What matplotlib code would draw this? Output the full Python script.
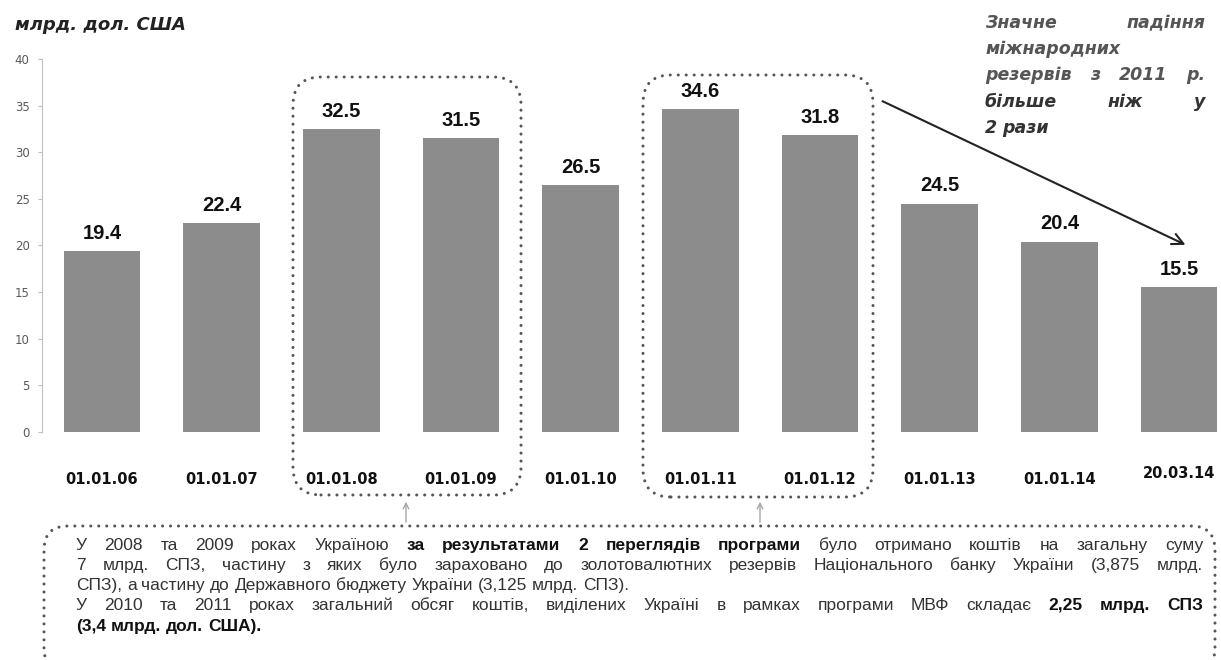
import matplotlib
matplotlib.use("Agg")
from matplotlib import pyplot as plt
from matplotlib.patches import FancyBboxPatch
import matplotlib.transforms as mtransforms

dates = ["01.01.06", "01.01.07", "01.01.08", "01.01.09", "01.01.10",
         "01.01.11", "01.01.12", "01.01.13", "01.01.14", "20.03.14"]
reserves = [19.4, 22.4, 32.5, 31.5, 26.5, 34.6, 31.8, 24.5, 20.4, 15.5]
yticks = [0, 5, 10, 15, 20, 25, 30, 35, 40]

W, H = 1221, 660
fig = plt.figure(figsize=(W / 100, H / 100), dpi=100)
px = mtransforms.IdentityTransform()


def P(x, y):
    # picture pixel (top-left origin) -> display pixel
    return x, H - y


ax = fig.add_axes([42 / W, 228 / H, 1179 / W, 373 / H])
x = list(range(len(dates)))
ax.bar(x, reserves, width=0.64, color="#8c8c8c", zorder=2)
for i, v in zip(x, reserves):
    ax.annotate(f"{v:.1f}", (i, v), xytext=(0, 6), textcoords="offset points",
                ha="center", va="bottom", fontsize=14.5, fontweight="bold",
                family="Liberation Sans", color="#111111")

ax.set_xlim(-0.5, 9.35)
ax.set_ylim(0, 40)
ax.set_yticks(yticks)
ax.set_yticklabels([str(t) for t in yticks], fontsize=8.5, color="#595959",
                   family="DejaVu Sans")
ax.tick_params(axis="y", color="#bfbfbf", length=3, pad=6)
ax.set_xticks(x)
ax.set_xticklabels(dates, fontsize=10.5, fontweight="bold", family="DejaVu Sans",
                   color="#111111")
ax.tick_params(axis="x", length=0, pad=29)
ax.get_xticklabels()[-1].set_y(0.016)
for s in ["top", "right", "bottom"]:
    ax.spines[s].set_visible(False)
ax.spines["left"].set_color("#bfbfbf")

# unit label
fig.text(*P(15, 25), "млрд. дол. США", transform=px, fontsize=13,
         fontweight="bold", fontstyle="italic", family="DejaVu Sans",
         color="#222222", va="center", ha="left")

# dotted rounded boxes
def dotted_box(x0, y0, x1, y1, r):
    bx, by = P(x0, y1)
    p = FancyBboxPatch((bx, by), x1 - x0, y1 - y0,
                       boxstyle=f"round,pad=0,rounding_size={r}",
                       transform=px, fill=False, edgecolor="#555555",
                       linewidth=2.2, linestyle=(0, (0.01, 2.6)))
    p.set_capstyle("round")
    fig.add_artist(p)


dotted_box(293, 77, 521, 495, 28)
dotted_box(643, 75, 873, 497, 28)
dotted_box(44, 526, 1215, 672, 24)

# small arrows from note to boxes
for ax_x in (406, 760):
    fig.add_artist(plt.Annotation("", xy=P(ax_x, 499), xytext=P(ax_x, 525),
                                  xycoords=px, textcoords=px,
                                  arrowprops=dict(arrowstyle="->", color="#a6a6a6",
                                                  lw=1.0)))

# big decline arrow
fig.add_artist(plt.Annotation("", xy=P(1188, 246), xytext=P(880, 100),
                              xycoords=px, textcoords=px,
                              arrowprops=dict(arrowstyle="->,head_length=0.8,head_width=0.4",
                                              color="#222222", lw=1.5)))

renderer = fig.canvas.get_renderer()


def put_line(segments, x0, x1, y, size, family, justify, style="normal",
             colors=("#333333", "#111111"), weights=("normal", "bold")):
    # y is the baseline in picture pixels
    words = []
    for txt, bold in segments:
        for w in txt.split():
            words.append((w, bold))
    objs = []
    for w, bold in words:
        t = fig.text(0, 0, w, transform=px, fontsize=size, family=family,
                     fontstyle=style, fontweight=weights[1] if bold else weights[0],
                     color=colors[1] if bold else colors[0], va="baseline", ha="left")
        objs.append(t)
    widths = [t.get_window_extent(renderer).width for t in objs]
    sp = fig.text(0, 0, "a a", transform=px, fontsize=size, family=family)
    nsp = fig.text(0, 0, "aa", transform=px, fontsize=size, family=family)
    space = sp.get_window_extent(renderer).width - nsp.get_window_extent(renderer).width
    sp.remove()
    nsp.remove()
    gap = space
    if justify and len(objs) > 1:
        gap = max((x1 - x0 - sum(widths)) / (len(objs) - 1), space * 0.6)
    cx = x0
    for t, wdt in zip(objs, widths):
        t.set_position(P(cx, y))
        cx += wdt + gap


note_lines = [
    ([("У 2008 та 2009 роках Україною ", False),
      ("за результатами 2 переглядів програми", True),
      (" було отримано коштів на загальну суму", False)], True),
    ([("7 млрд. СПЗ, частину з яких було зараховано до золотовалютних резервів "
       "Національного банку України (3,875 млрд.", False)], True),
    ([("СПЗ), а частину до Державного бюджету України (3,125 млрд. СПЗ).", False)], False),
    ([("У 2010 та 2011 роках загальний обсяг коштів, виділених Україні в рамках "
       "програми МВФ складає ", False), ("2,25 млрд. СПЗ", True)], True),
    ([("(3,4 млрд. дол. США).", True)], False),
]
note_base = [550, 570, 590, 610, 631]
for (segs, just), yy in zip(note_lines, note_base):
    put_line(segs, 76, 1203, yy, 12.5, "Liberation Sans", just)

side_lines = [
    ([("Значне падіння", False)], True),
    ([("міжнародних", False)], False),
    ([("резервів з 2011 р.", False)], True),
    ([("більше ніж у", True)], True),
    ([("2 рази", True)], False),
]
side_base = [28, 54, 80, 107, 133]
for (segs, just), yy in zip(side_lines, side_base):
    put_line(segs, 985, 1205, yy, 12.5, "DejaVu Sans", just, style="italic",
             colors=("#555555", "#333333"), weights=("bold", "bold"))

fig.savefig("out.png", dpi=100)
